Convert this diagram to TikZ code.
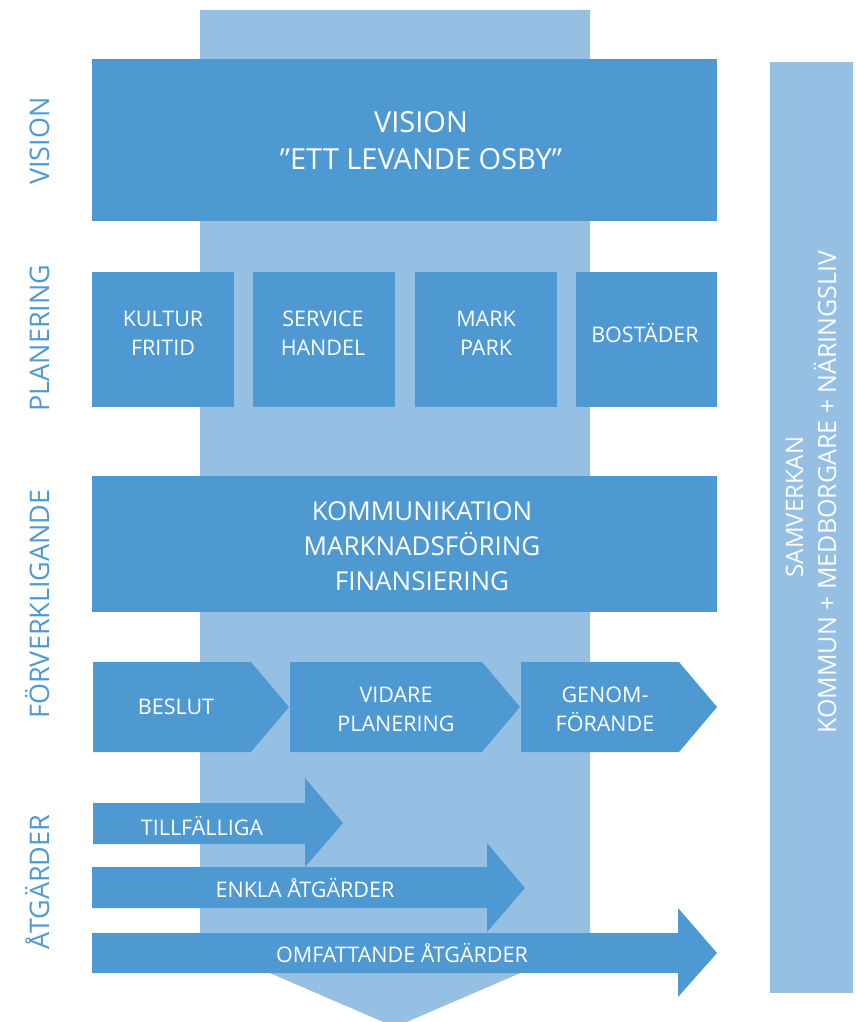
\documentclass[tikz,border=0pt]{standalone}
\usepackage{fontspec}
\setmainfont{Open Sans}
\definecolor{dblue}{HTML}{4F99D2}
\definecolor{lblue}{HTML}{95C0E3}
\begin{document}
\begin{tikzpicture}[x=1pt,y=1pt,
  dark/.style={fill=dblue,draw=none},
  light/.style={fill=lblue,draw=none},
  wt/.style={text=white,align=center,inner sep=0pt},
  bigt/.style={wt,font=\fontsize{29}{37}\selectfont},
  midt/.style={wt,font=\fontsize{26}{35}\selectfont},
  smt/.style={wt,font=\fontsize{21.5}{29}\selectfont},
  sidet/.style={text=dblue,rotate=90,inner sep=0pt,anchor=base,font=\fontsize{27}{30}\selectfont},
  rightt/.style={text=white,rotate=90,inner sep=0pt,anchor=base,font=\fontsize{24}{30}\selectfont}]
\useasboundingbox (0,0) rectangle (856,-1022);
% background column with downward chevron
\fill[light] (200,-10) -- (590,-10) -- (590,-943) -- (395,-1027) -- (200,-943) -- cycle;
% right bar
\fill[light] (770,-62) rectangle (853,-993);
% vision
\fill[dark] (92,-59) rectangle (717,-221);
\node[bigt] (vis) at (421,-141) {VISION\\”ETT LEVANDE OSBY”};
% planning boxes
\fill[dark] (92,-272) rectangle (234,-407);
\fill[dark] (253,-272) rectangle (395,-407);
\fill[dark] (415,-272) rectangle (557,-407);
\fill[dark] (576,-272) rectangle (717,-407);
\node[smt] (kul) at (163,-333) {KULTUR\\FRITID};
\node[smt] (ser) at (323,-333) {SERVICE\\HANDEL};
\node[smt] (mar) at (486,-333) {MARK\\PARK};
\node[smt] (bos) at (645,-333) {BOSTÄDER};
% communication
\fill[dark] (92,-476) rectangle (717,-612);
\node[midt] (kom) at (422,-546) {KOMMUNIKATION\\MARKNADSFÖRING\\FINANSIERING};
% process chevrons
\fill[dark] (93,-662) -- (251,-662) -- (289,-707) -- (251,-752) -- (93,-752) -- cycle;
\fill[dark] (290,-662) -- (482,-662) -- (520,-707) -- (482,-752) -- (290,-752) -- cycle;
\fill[dark] (521,-662) -- (679,-662) -- (717,-707) -- (679,-752) -- (521,-752) -- cycle;
\node[smt] (bes) at (176,-707) {BESLUT};
\node[smt] (vid) at (396,-709) {VIDARE\\PLANERING};
\node[smt] (gen) at (605,-709) {GENOM-\\FÖRANDE};
% arrows
\fill[dark] (93,-803) -- (305,-803) -- (305,-778) -- (343,-823) -- (305,-867) -- (305,-844) -- (93,-844) -- cycle;
\fill[dark] (92,-867) -- (487,-867) -- (487,-843) -- (525,-888) -- (487,-932) -- (487,-908) -- (92,-908) -- cycle;
\fill[dark] (92,-933) -- (678,-933) -- (678,-908) -- (717,-953) -- (678,-997) -- (678,-973) -- (92,-973) -- cycle;
\node[smt] (til) at (202,-826) {TILLFÄLLIGA};
\node[smt] (enk) at (305,-888) {ENKLA ÅTGÄRDER};
\node[smt] (omf) at (402,-953) {OMFATTANDE ÅTGÄRDER};
% side labels
\node[sidet] (lvis) at (49,-141) {VISION};
\node[sidet] (lpla) at (49,-338) {PLANERING};
\node[sidet] (lfor) at (49,-604) {FÖRVERKLIGANDE};
\node[sidet] (latg) at (49,-882) {ÅTGÄRDER};
\node[rightt] (sam) at (803,-507) {SAMVERKAN};
\node[rightt,font=\fontsize{25}{30}\selectfont] (kmn) at (836,-492) {KOMMUN + MEDBORGARE + NÄRINGSLIV};
\end{tikzpicture}
\end{document}
